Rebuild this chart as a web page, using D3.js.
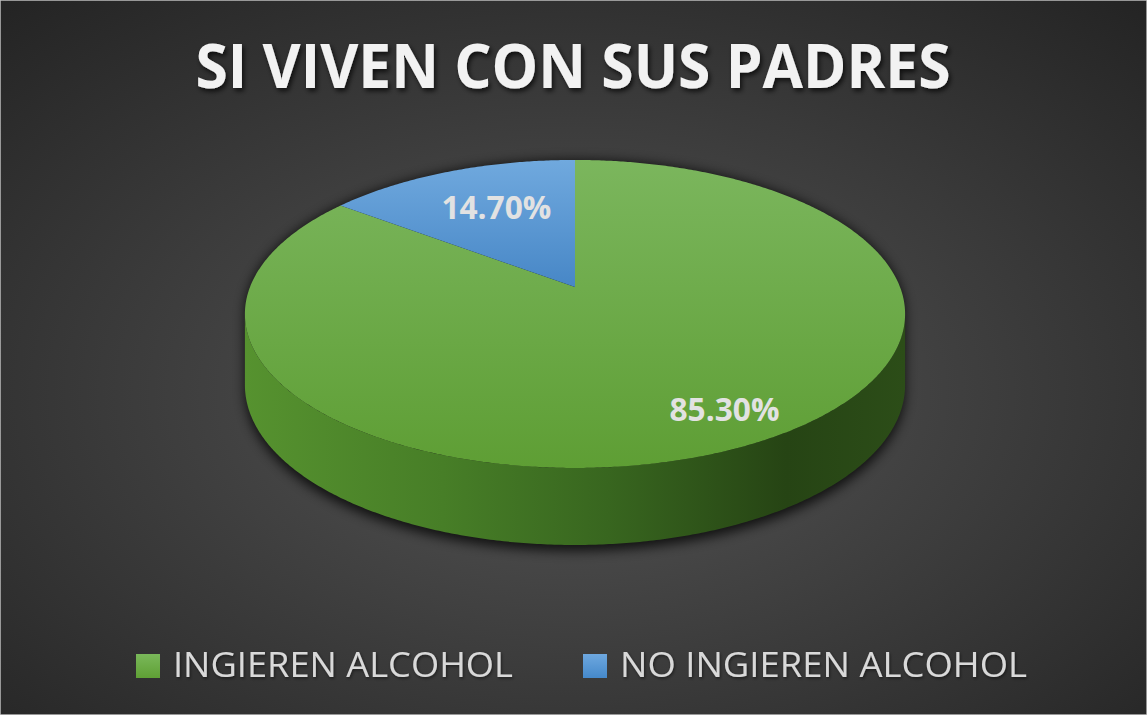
<!DOCTYPE html>
<html>
<head>
<meta charset="utf-8">
<script src="https://cdn.jsdelivr.net/npm/d3@7"></script>
<style>
  html, body { margin: 0; padding: 0; background: #2b2b2b; }
  svg { display: block; }
</style>
</head>
<body>
<svg id="chart" width="1147" height="715"></svg>
<script>
// data
const categories = ["INGIEREN ALCOHOL", "NO INGIEREN ALCOHOL"];
const values = [85.3, 14.7];
const valueLabels = ["85.30%", "14.70%"];
const title = "SI VIVEN CON SUS PADRES";

const width = 1147, height = 715;
const svg = d3.select("#chart");
const defs = svg.append("defs");

// background radial gradient (dark, lighter in the middle)
const bg = defs.append("radialGradient").attr("id", "bg")
  .attr("cx", "50%").attr("cy", "55%").attr("r", "75%");
bg.append("stop").attr("offset", "0%").attr("stop-color", "#565656");
bg.append("stop").attr("offset", "100%").attr("stop-color", "#232323");

svg.append("rect").attr("width", width).attr("height", height).attr("fill", "url(#bg)")
  .attr("stroke", "#bdbdbd").attr("stroke-width", 1.5);

// slice colours: top face gradients + side gradient
const topGrad = [["#7bb65d", "#5e9e34"], ["#70a9de", "#4686c6"]];
topGrad.forEach((c, i) => {
  const g = defs.append("linearGradient").attr("id", "top" + i)
    .attr("gradientUnits", "userSpaceOnUse")
    .attr("x1", 0).attr("y1", 160).attr("x2", 0).attr("y2", i === 0 ? 470 : 290);
  g.append("stop").attr("offset", "0%").attr("stop-color", c[0]);
  g.append("stop").attr("offset", "100%").attr("stop-color", c[1]);
});
const sideGrad = defs.append("linearGradient").attr("id", "side0")
  .attr("gradientUnits", "userSpaceOnUse")
  .attr("x1", 245).attr("y1", 0).attr("x2", 905).attr("y2", 0);
[["0%", "#56922f"], ["30%", "#477e27"], ["55%", "#38661f"], ["82%", "#264414"], ["100%", "#2c4d18"]]
  .forEach(s => sideGrad.append("stop").attr("offset", s[0]).attr("stop-color", s[1]));

// legend swatch gradients
const swatch = [["#7ab85a", "#5fa035"], ["#6ea8df", "#4589cb"]];
swatch.forEach((c, i) => {
  const g = defs.append("linearGradient").attr("id", "sw" + i)
    .attr("x1", 0).attr("y1", 0).attr("x2", 0).attr("y2", 1);
  g.append("stop").attr("offset", "0%").attr("stop-color", c[0]);
  g.append("stop").attr("offset", "100%").attr("stop-color", c[1]);
});

const blur = defs.append("filter").attr("id", "shadow")
  .attr("x", "-20%").attr("y", "-20%").attr("width", "140%").attr("height", "140%");
blur.append("feGaussianBlur").attr("stdDeviation", 6);

const txtShadow = defs.append("filter").attr("id", "tshadow")
  .attr("x", "-10%").attr("y", "-30%").attr("width", "120%").attr("height", "160%");
txtShadow.append("feDropShadow").attr("dx", 2).attr("dy", 3).attr("stdDeviation", 2.5)
  .attr("flood-color", "#000").attr("flood-opacity", 0.7);

const softShadow = defs.append("filter").attr("id", "lshadow")
  .attr("x", "-10%").attr("y", "-30%").attr("width", "120%").attr("height", "160%");
softShadow.append("feDropShadow").attr("dx", 1).attr("dy", 1.5).attr("stdDeviation", 1.5)
  .attr("flood-color", "#000").attr("flood-opacity", 0.5);

// perspective projection of a tilted disc
const P = { cx: 575, cy: 287, s: 325, s2: 149.3, k: 0.175 };
function proj(a, r) {
  const X = r * Math.sin(a), Z = r * Math.cos(a);
  const d = 1 + P.k * Z;
  return [P.cx + P.s * X / d, P.cy - P.s2 * Z / d];
}
function depth(a) { return 69.7 - 7.3 * Math.cos(a); }

const pie = d3.pie().sort(null).value(d => d);
const arcs = pie(values);

const step = Math.PI / 360;
function edge(a0, a1) {
  const pts = [];
  const n = Math.max(2, Math.ceil((a1 - a0) / step));
  const t = d3.scaleLinear().domain([0, n]).range([a0, a1]);
  for (let i = 0; i <= n; i++) pts.push(t(i));
  return pts;
}
const line = d3.line();

// silhouette limits for the visible side wall
const sideA0 = Math.acos(-P.k), sideA1 = 2 * Math.PI - Math.acos(-P.k);

// soft shadow beneath the pie
const shadowPts = edge(sideA0, sideA1).map(a => { const p = proj(a, 1); return [p[0], p[1] + depth(a) + 6]; });
const topPts = edge(sideA1, sideA0 + 2 * Math.PI).map(a => proj(a, 1));
svg.append("path")
  .attr("d", line(shadowPts.concat(topPts)) + "Z")
  .attr("fill", "#000").attr("opacity", 0.75).attr("filter", "url(#shadow)");

const pieG = svg.append("g");

// side walls
arcs.forEach((d, i) => {
  const a0 = Math.max(d.startAngle, sideA0), a1 = Math.min(d.endAngle, sideA1);
  if (a1 <= a0) return;
  const angles = edge(a0, a1);
  const up = angles.map(a => proj(a, 1));
  const down = angles.slice().reverse().map(a => { const p = proj(a, 1); return [p[0], p[1] + depth(a)]; });
  pieG.append("path").attr("d", line(up.concat(down)) + "Z")
    .attr("fill", i === 0 ? "url(#side0)" : "#2f6aa3");
});

// top faces
arcs.forEach((d, i) => {
  const pts = [[P.cx, P.cy]].concat(edge(d.startAngle, d.endAngle).map(a => proj(a, 1)));
  pieG.append("path").attr("d", line(pts) + "Z").attr("fill", "url(#top" + i + ")");
});

// data labels (Excel nudges them a little off the mid-radius)
const labelR = [0.8, 0.66];
const labelShift = [[17, 0], [8, 0]];
arcs.forEach((d, i) => {
  const p = proj((d.startAngle + d.endAngle) / 2, labelR[i]);
  svg.append("text")
    .attr("x", p[0] + labelShift[i][0]).attr("y", p[1] + 12 + labelShift[i][1])
    .attr("text-anchor", "middle")
    .attr("font-family", "Open Sans, sans-serif")
    .attr("font-weight", 700).attr("font-size", 33)
    .attr("fill", "#e2e2e2")
    .attr("textLength", 110).attr("lengthAdjust", "spacingAndGlyphs")
    .text(valueLabels[i]);
});

// title
svg.append("text")
  .attr("x", 573).attr("y", 88)
  .attr("text-anchor", "middle")
  .attr("font-family", "Open Sans, sans-serif")
  .attr("font-weight", 700).attr("font-size", 60)
  .attr("fill", "#f2f2f2")
  .attr("textLength", 755).attr("lengthAdjust", "spacingAndGlyphs")
  .attr("filter", "url(#tshadow)")
  .text(title);

// legend
const legendX = [136, 583];
const legendW = [340, 407];
categories.forEach((c, i) => {
  svg.append("rect")
    .attr("x", legendX[i]).attr("y", 654).attr("width", 24).attr("height", 24)
    .attr("fill", "url(#sw" + i + ")");
  svg.append("text")
    .attr("x", legendX[i] + 37).attr("y", 677)
    .attr("font-family", "Open Sans, sans-serif")
    .attr("font-weight", 400).attr("font-size", 34)
    .attr("fill", "#d9d9d9")
    .attr("textLength", legendW[i]).attr("lengthAdjust", "spacingAndGlyphs")
    .attr("filter", "url(#lshadow)")
    .text(c);
});
</script>
</body>
</html>
